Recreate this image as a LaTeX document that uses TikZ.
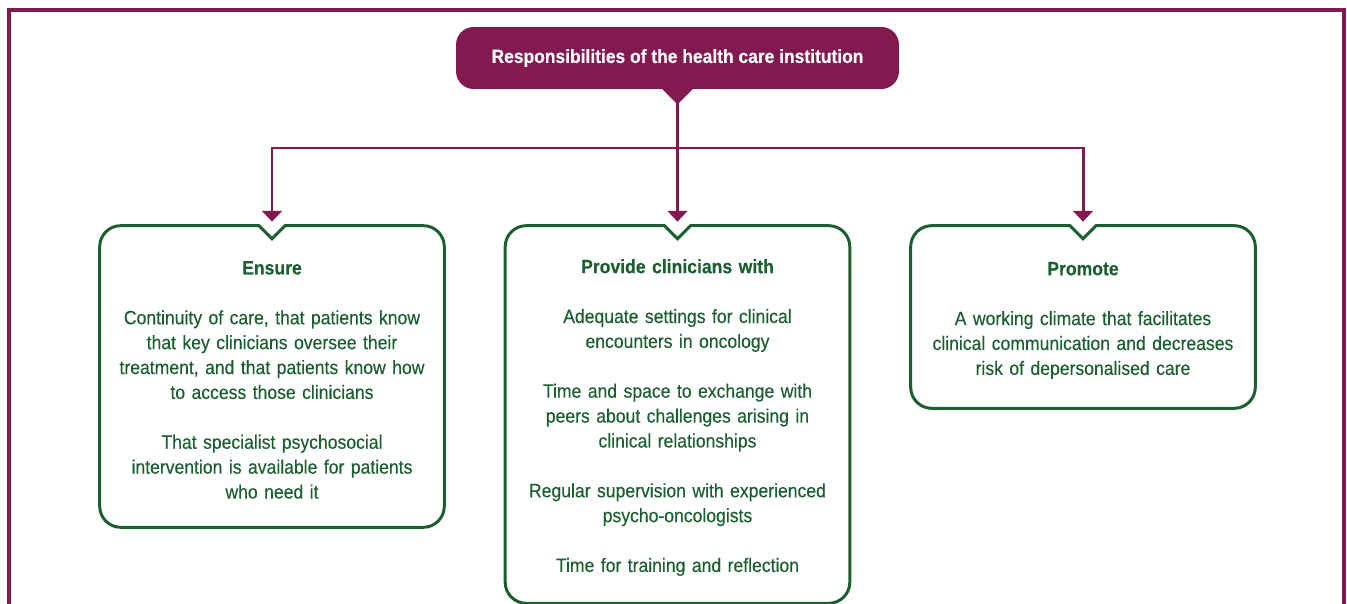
\documentclass[tikz,border=0pt]{standalone}
\usepackage{fontspec}
\setmainfont{Liberation Sans}[FakeStretch=0.91,FakeBold=0.3]
\usetikzlibrary{arrows.meta,calc}

\definecolor{plum}{HTML}{821A4F}
\definecolor{forest}{HTML}{1B5E30}

\tikzset{
  headbox/.style={fill=plum, text=white, rounded corners=10,
    minimum width=8.86cm, minimum height=1.24cm,
    font=\bfseries\fontsize{10.9}{14}\selectfont},
  taskbox/.style={text=forest, align=center, text width=6.3cm,
    minimum width=6.88cm, inner sep=0pt,
    font=\fontsize{11}{14.17}\selectfont},
  boxline/.style={draw=forest, line width=1.7pt},
  link/.style={draw=plum, line width=1.7pt,
    -{Triangle[width=11.3pt,length=6.2pt]}},
}

\begin{document}
\begin{tikzpicture}[x=0.02cm,y=-0.02cm]
\useasboundingbox (0,0) rectangle (1347,604);

% Outer frame
\draw[plum, line width=1.8pt] (9,604) -- (9,10) -- (1344,10) -- (1344,604);

% Top box
\node[headbox] (title) at (677.5,58) {Responsibilities of the health care institution};
\fill[plum] ($(title.south)+(-16,-1)$) -- ($(title.south)+(0,15)$) -- ($(title.south)+(16,-1)$) -- cycle;
\coordinate (title-tip) at ($(title.south)+(0,14)$);
\coordinate (fork) at (title-tip |- 0,148);

% Boxes
\node[taskbox, minimum height=6.02cm] (ensure) at (272,376.5) {%
  \rule{0pt}{11.5pt}\textbf{Ensure}\\[14.17pt]
  Continuity of care, that patients know\\
  that key clinicians oversee their\\
  treatment, and that patients know how\\
  to access those clinicians\\[14.17pt]
  That specialist psychosocial\\
  intervention is available for patients\\
  who need it};
\node[taskbox, minimum height=7.54cm] (provide) at (677.5,414.5) {%
  \rule{0pt}{11.5pt}\textbf{Provide clinicians with}\\[14.17pt]
  Adequate settings for clinical\\
  encounters in oncology\\[14.17pt]
  Time and space to exchange with\\
  peers about challenges arising in\\
  clinical relationships\\[14.17pt]
  Regular supervision with experienced\\
  psycho-oncologists\\[14.17pt]
  Time for training and reflection};
\node[taskbox, minimum height=3.64cm] (promote) at (1083,317) {%
  \rule{0pt}{11.5pt}\textbf{Promote}\\[14.17pt]
  A working climate that facilitates\\
  clinical communication and decreases\\
  risk of depersonalised care};

% Outlines with notch
\foreach \b in {ensure,provide,promote}{
  \draw[boxline] ($(\b.north)+(0,13)$) -- ($(\b.north)+(-13,0)$)
    [rounded corners=12] -- (\b.north west) -- (\b.south west)
    -- (\b.south east) -- (\b.north east) [sharp corners]
    -- ($(\b.north)+(13,0)$) -- cycle;
  \coordinate (\b-in) at ($(\b.north)+(0,-4)$);
}

% Connectors
\draw[link] (title-tip) -- (provide-in);
\draw[link] (fork) -| (ensure-in);
\draw[link] (fork) -| (promote-in);
\end{tikzpicture}
\end{document}
